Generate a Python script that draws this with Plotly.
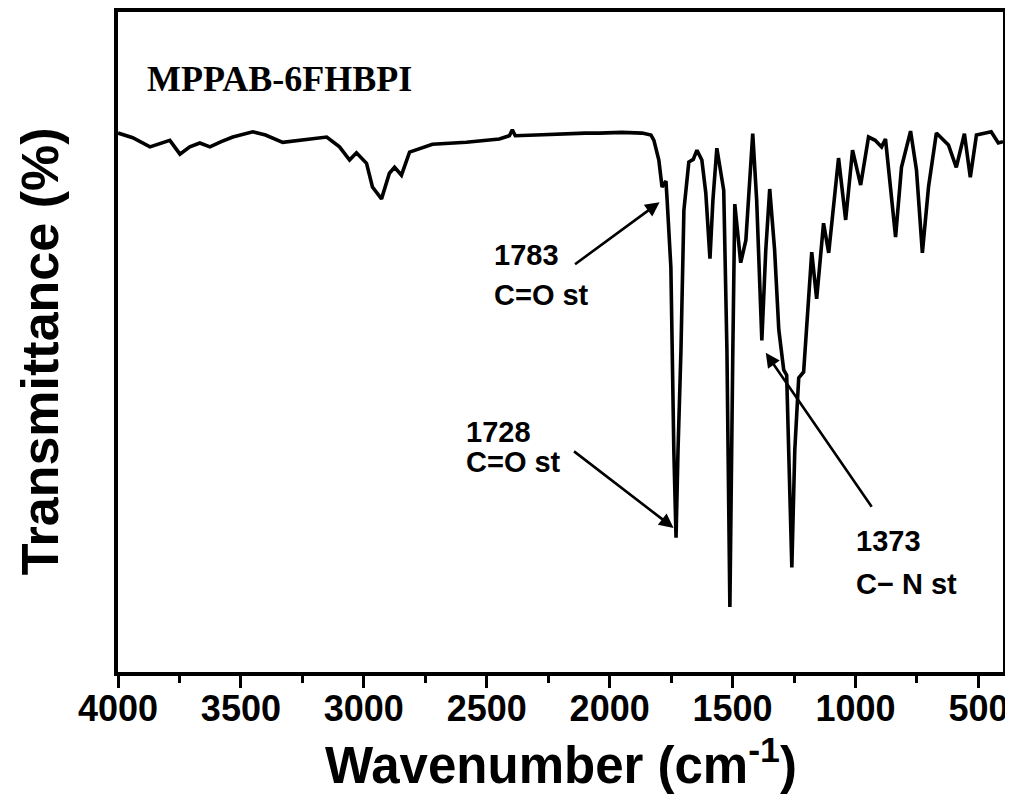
import plotly.graph_objects as go

# Wavenumber (cm-1) and transmittance (arbitrary %)
wavenumber = [4000, 3940, 3870, 3789, 3748, 3708, 3667, 3626, 3580, 3533, 3452, 3400, 3330,
              3250, 3151, 3099, 3058, 3030, 2989, 2965, 2928, 2896, 2875, 2847, 2814, 2721,
              2583, 2449, 2408, 2396, 2384, 2300, 2205, 2100, 2043, 1950, 1868, 1832, 1820,
              1800, 1787, 1771, 1767, 1751, 1739, 1730, 1722, 1710, 1698, 1678, 1660, 1645,
              1625, 1609, 1592, 1580, 1564, 1536, 1523, 1511, 1499, 1491, 1467, 1446, 1418,
              1402, 1381, 1365, 1349, 1329, 1312, 1292, 1280, 1272, 1259, 1247, 1231, 1211,
              1199, 1178, 1158, 1130, 1109, 1069, 1040, 1012, 979, 947, 920, 894, 878, 837,
              813, 776, 752, 728, 703, 671, 622, 590, 557, 533, 508, 480, 448, 419, 400]
transmittance = [81.3, 80.6, 79.2, 80.2, 78.1, 79.2, 79.8, 79.2, 80.0, 80.7, 81.5, 81.0, 79.9,
                 80.2, 80.7, 79.2, 77.2, 78.3, 76.7, 73.1, 71.3, 75.2, 76.1, 74.9, 78.4, 79.6,
                 79.9, 80.4, 80.9, 81.8, 80.9, 81.0, 81.2, 81.3, 81.3, 81.4, 81.3, 81.0, 80.2,
                 77.2, 73.1, 74.0, 71.6, 60.9, 33.1, 19.8, 33.1, 48.3, 69.6, 76.9, 77.3, 78.7,
                 77.2, 72.2, 62.2, 71.1, 79.0, 72.6, 48.3, 9.3, 48.3, 70.5, 61.6, 65.0, 81.2,
                 71.1, 49.8, 63.5, 72.8, 63.5, 51.4, 45.3, 44.5, 33.1, 15.3, 33.1, 44.1, 45.0,
                 51.4, 63.2, 56.1, 67.6, 63.1, 77.5, 68.1, 78.7, 73.4, 80.7, 80.2, 79.2, 80.4, 65.5,
                 76.1, 81.6, 75.7, 63.1, 73.1, 81.3, 79.5, 76.1, 81.2, 74.6, 81.0, 81.3, 81.5, 79.8, 80.0]

sample_name = "MPPAB-6FHBPI"
x_title = "Wavenumber (cm<sup>-1</sup>)"
y_title = "Transmittance (%)"
peak_numbers = ["1783", "1728", "1373"]
peak_modes = ["C=O st", "C=O st", "C\u2212 N st"]
arrow_heads_x = [1797, 1740, 1365]
arrow_heads_y = [70.8, 21.3, 47.9]
arrow_tails_x = [2147, 2151, 930]
arrow_tails_y = [61.2, 33.1, 24.3]
label_x = [2480, 2594, 1007]
label_y1 = [62.8, 35.8, 19.3]
label_y2 = [56.7, 31.3, 12.7]

x_ticks = [4000, 3500, 3000, 2500, 2000, 1500, 1000, 500]

fig = go.Figure()
fig.add_trace(go.Scatter(x=wavenumber, y=transmittance, mode="lines",
                         line=dict(color="black", width=3.6), showlegend=False,
                         hoverinfo="skip"))

sans = "Liberation Sans, Arial, sans-serif"

for hx, hy, tx, ty in zip(arrow_heads_x, arrow_heads_y, arrow_tails_x, arrow_tails_y):
    fig.add_annotation(x=hx, y=hy, ax=tx, ay=ty, xref="x", yref="y", axref="x", ayref="y",
                       text="", showarrow=True, arrowhead=2, arrowsize=1.1, arrowwidth=2.6,
                       arrowcolor="black", standoff=0, startstandoff=0)

for num, mode, lx, y1, y2 in zip(peak_numbers, peak_modes, label_x, label_y1, label_y2):
    for txt, ly in ((num, y1), (mode, y2)):
        fig.add_annotation(x=lx, y=ly, xref="x", yref="y", text=txt, showarrow=False,
                           xanchor="left", yanchor="middle", align="left",
                           font=dict(family=sans, size=29, color="black", weight="bold"))

fig.add_annotation(x=0.031, y=0.898, xref="paper", yref="paper", text=sample_name,
                   showarrow=False, xanchor="left", yanchor="middle",
                   font=dict(family="Liberation Serif, Times New Roman, serif", size=36,
                             color="black", weight="bold"))

fig.add_annotation(x=0.5, y=-0.137, xref="paper", yref="paper", text=x_title,
                   showarrow=False, xanchor="center", yanchor="middle",
                   font=dict(family=sans, size=51, color="black", weight="bold"))
fig.add_annotation(x=-0.088, y=0.486, xref="paper", yref="paper", text=y_title,
                   showarrow=False, xanchor="center", yanchor="middle", textangle=-90,
                   font=dict(family=sans, size=52, color="black", weight="bold"))

fig.update_layout(
    width=1005, height=789,
    margin=dict(l=110, r=10, t=4, b=125, autoexpand=False),
    paper_bgcolor="white", plot_bgcolor="white",
    font=dict(family=sans, color="black"),
    xaxis=dict(range=[4000, 400], tickvals=x_ticks, ticktext=[str(v) for v in x_ticks],
               ticks="outside", ticklen=12, tickwidth=3, tickcolor="black",
               minor=dict(dtick=250, tick0=0, ticks="outside", ticklen=7, tickwidth=3,
                          tickcolor="black", showgrid=False),
               showline=True, linewidth=4, linecolor="black", mirror=True,
               showgrid=False, zeroline=False, automargin=False, ticklabelstandoff=-10,
               ticklabeloverflow="allow",
               tickfont=dict(family=sans, size=36, color="black", weight="bold")),
    yaxis=dict(range=[-0.6, 99.7], showticklabels=False, ticks="",
               showline=True, linewidth=4, linecolor="black", mirror=True,
               showgrid=False, zeroline=False, automargin=False),
)

fig.write_html("out.html")
